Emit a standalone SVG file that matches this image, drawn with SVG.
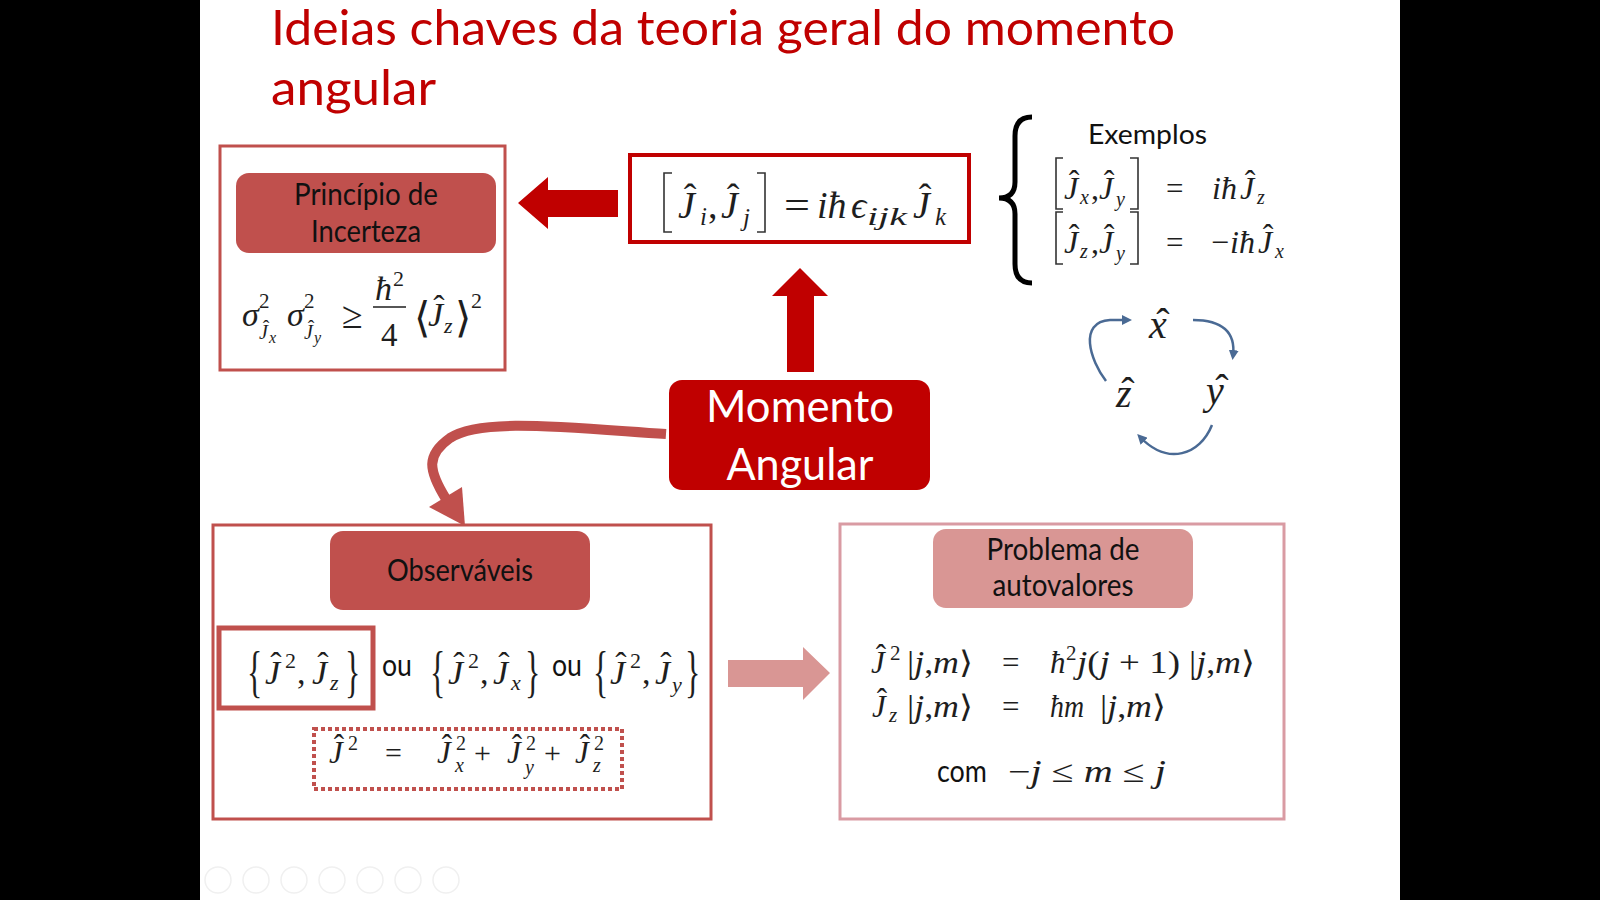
<svg xmlns="http://www.w3.org/2000/svg" width="1600" height="900" viewBox="0 0 1600 900">
<style>
.s{font-family:"Lato","Liberation Sans",sans-serif}
.m{font-family:"Liberation Serif","DejaVu Serif",serif;font-style:italic;fill:#1e1e1e}
.u{font-family:"Liberation Serif","DejaVu Serif",serif;font-style:normal;fill:#1e1e1e}
.h{font-style:normal;text-anchor:middle}
.n{font-style:normal}
.br{fill:none;stroke:#333;stroke-width:1.6}
.lbl{font-size:30px;fill:#111;text-anchor:middle}
</style>
<defs>
<marker id="ab" viewBox="0 0 10 10" refX="6" refY="5" markerWidth="4" markerHeight="4" orient="auto" markerUnits="strokeWidth">
<path d="M0 0 L10 5 L0 10 Z" fill="#4a6a94"/>
</marker>
</defs>
<rect x="0" y="0" width="1600" height="900" fill="#000"/>
<rect x="200" y="0" width="1200" height="900" fill="#fff"/>

<g id="title" class="s" fill="#c00000" font-size="49">
<text x="271" y="45" textLength="904" lengthAdjust="spacingAndGlyphs">Ideias chaves da teoria geral do momento</text>
<text x="271" y="105" textLength="165" lengthAdjust="spacingAndGlyphs">angular</text>
</g>

<g id="connectors">
<polygon points="518,203 548,177 548,190 618,190 618,217 548,217 548,229" fill="#c00000"/>
<polygon points="800,268 828,296 814,296 814,372 787,372 787,296 772,296" fill="#c00000"/>
<polygon points="728,660 803,660 803,647 830,673 803,700 803,687 728,687" fill="#d99694"/>
<path d="M666 434 C560 427,480 418,450 438 C426 455,428 470,446 499" fill="none" stroke="#c0504d" stroke-width="10"/>
<polygon points="429,507 462,487 465,526" fill="#c0504d"/>
<path d="M1106 381 C1090 360,1078 322,1110 320 L1128 320" fill="none" stroke="#4a6a94" stroke-width="2.5" marker-end="url(#ab)"/>
<path d="M1193 320 C1222 320,1236 332,1233 356" fill="none" stroke="#4a6a94" stroke-width="2.5" marker-end="url(#ab)"/>
<path d="M1212 425 C1200 455,1168 466,1140 437" fill="none" stroke="#4a6a94" stroke-width="2.5" marker-end="url(#ab)"/>
</g>

<g id="incerteza">
<rect x="220" y="146" width="285" height="224" fill="#fff" stroke="#c0504d" stroke-width="3"/>
<rect x="236" y="173" width="260" height="80" rx="13" fill="#c0504d"/>
<text class="s lbl" x="366" y="205" textLength="144" lengthAdjust="spacingAndGlyphs">Princípio de</text>
<text class="s lbl" x="366" y="242" textLength="110" lengthAdjust="spacingAndGlyphs">Incerteza</text>
<text class="m" x="242" y="326" font-size="34">σ<tspan class="n" x="259" y="308" font-size="21">2</tspan><tspan x="259" y="339" font-size="20">J</tspan><tspan class="h" x="266" y="335" font-size="20">ˆ</tspan><tspan x="269" y="343" font-size="16">x</tspan></text>
<text class="m" x="287" y="326" font-size="34">σ<tspan class="n" x="304" y="308" font-size="21">2</tspan><tspan x="304" y="339" font-size="20">J</tspan><tspan class="h" x="311" y="335" font-size="20">ˆ</tspan><tspan x="314" y="343" font-size="16">y</tspan></text>
<text class="u" x="342" y="328" font-size="38">≥</text>
<text class="m" x="375" y="300" font-size="34">ħ<tspan class="n" x="393" y="286" font-size="22">2</tspan></text>
<line x1="373" y1="307" x2="406" y2="307" stroke="#1e1e1e" stroke-width="1.5"/>
<text class="u" x="381" y="346" font-size="33">4</text>
<text class="m" x="414" y="332" font-size="42"><tspan class="n">⟨</tspan><tspan x="428" y="326" font-size="34">J</tspan><tspan class="h" x="439" y="319" font-size="34">ˆ</tspan><tspan x="444" y="333" font-size="22">z</tspan><tspan class="n" x="455" y="332">⟩</tspan><tspan class="n" x="471" y="308" font-size="22">2</tspan></text>
</g>

<g id="comutador">
<rect x="630" y="155" width="339" height="87" fill="#fff" stroke="#c00000" stroke-width="4"/>
<path class="br" d="M672 173 H664 V232 H672"/>
<text class="m" x="678" y="218" font-size="38">J<tspan class="h" x="690" y="210">ˆ</tspan><tspan x="700" y="225" font-size="25">i</tspan><tspan class="n" x="708" y="218">,</tspan></text>
<text class="m" x="721" y="218" font-size="38">J<tspan class="h" x="733" y="210">ˆ</tspan><tspan x="743" y="226" font-size="25">j</tspan></text>
<path class="br" d="M757 173 H765 V232 H757"/>
<text class="u" x="784" y="218" font-size="38" textLength="26" lengthAdjust="spacingAndGlyphs">=</text>
<text class="m" x="817" y="218" font-size="38">iħ<tspan x="851">ϵ</tspan></text>
<text class="m" x="867" y="225" font-size="25" textLength="40" lengthAdjust="spacingAndGlyphs">ijk</text>
<text class="m" x="913" y="218" font-size="38">J<tspan class="h" x="925" y="210">ˆ</tspan><tspan x="935" y="225" font-size="25">k</tspan></text>
</g>

<g id="exemplos">
<path d="M1032 117 Q1015 117 1015 136 V182 Q1015 198 999 198 Q1015 198 1015 214 V264 Q1015 283 1032 283" fill="none" stroke="#000" stroke-width="5"/>
<text class="s" x="1088" y="144" font-size="27" fill="#111" textLength="119" lengthAdjust="spacingAndGlyphs">Exemplos</text>
<path class="br" d="M1063 158 H1056 V209 H1063"/>
<text class="m" x="1064" y="199" font-size="32">J<tspan class="h" x="1074" y="192">ˆ</tspan><tspan x="1080" y="204" font-size="20">x</tspan><tspan class="n" x="1091" y="199">,</tspan></text>
<text class="m" x="1099" y="199" font-size="32">J<tspan class="h" x="1109" y="192">ˆ</tspan><tspan x="1116" y="206" font-size="20">y</tspan></text>
<path class="br" d="M1130 158 H1138 V209 H1130"/>
<text class="u" x="1166" y="199" font-size="31">=</text>
<text class="m" x="1212" y="199" font-size="32">iħ<tspan x="1240">J</tspan><tspan class="h" x="1250" y="192">ˆ</tspan><tspan x="1257" y="204" font-size="20">z</tspan></text>
<path class="br" d="M1063 212 H1056 V264 H1063"/>
<text class="m" x="1064" y="253" font-size="32">J<tspan class="h" x="1074" y="246">ˆ</tspan><tspan x="1080" y="258" font-size="20">z</tspan><tspan class="n" x="1091" y="253">,</tspan></text>
<text class="m" x="1099" y="253" font-size="32">J<tspan class="h" x="1109" y="246">ˆ</tspan><tspan x="1116" y="260" font-size="20">y</tspan></text>
<path class="br" d="M1130 212 H1138 V264 H1130"/>
<text class="u" x="1166" y="253" font-size="31">=</text>
<text class="m" x="1211" y="253" font-size="32"><tspan class="n">−</tspan><tspan x="1230">iħ</tspan><tspan x="1258">J</tspan><tspan class="h" x="1268" y="246">ˆ</tspan><tspan x="1275" y="258" font-size="20">x</tspan></text>
</g>

<g id="ciclo">
<text class="m" x="1149" y="338" font-size="40">x<tspan class="h" x="1163" y="336">ˆ</tspan></text>
<text class="m" x="1206" y="404" font-size="40">y<tspan class="h" x="1222" y="402">ˆ</tspan></text>
<text class="m" x="1116" y="407" font-size="40">z<tspan class="h" x="1128" y="405">ˆ</tspan></text>
</g>

<g id="momento">
<rect x="669" y="380" width="261" height="110" rx="13" fill="#c00000"/>
<text class="s" x="800" y="422" font-size="44" fill="#fff" text-anchor="middle" textLength="188" lengthAdjust="spacingAndGlyphs">Momento</text>
<text class="s" x="800" y="480" font-size="44" fill="#fff" text-anchor="middle" textLength="147" lengthAdjust="spacingAndGlyphs">Angular</text>
</g>

<g id="observaveis">
<rect x="213" y="525" width="498" height="294" fill="#fff" stroke="#c0504d" stroke-width="3"/>
<rect x="330" y="531" width="260" height="79" rx="13" fill="#c0504d"/>
<text class="s lbl" x="460" y="581" textLength="146" lengthAdjust="spacingAndGlyphs">Observáveis</text>
<rect x="219" y="628" width="154" height="80" fill="none" stroke="#c0504d" stroke-width="5"/>
<text class="u" transform="translate(247,691) scale(0.55,1)" font-size="58">{</text>
<text class="m" x="265" y="684" font-size="34">J<tspan class="h" x="276" y="676">ˆ</tspan><tspan class="n" x="285" y="668" font-size="22">2</tspan><tspan class="n" x="297" y="684">,</tspan><tspan x="312" y="684">J</tspan><tspan class="h" x="323" y="676">ˆ</tspan><tspan x="330" y="690" font-size="22">z</tspan></text>
<text class="u" transform="translate(345,691) scale(0.55,1)" font-size="58">}</text>
<text class="s" x="382" y="676" font-size="30" fill="#111" textLength="30" lengthAdjust="spacingAndGlyphs">ou</text>
<text class="u" transform="translate(430,691) scale(0.55,1)" font-size="58">{</text>
<text class="m" x="448" y="684" font-size="34">J<tspan class="h" x="459" y="676">ˆ</tspan><tspan class="n" x="468" y="668" font-size="22">2</tspan><tspan class="n" x="480" y="684">,</tspan><tspan x="493" y="684">J</tspan><tspan class="h" x="504" y="676">ˆ</tspan><tspan x="511" y="690" font-size="22">x</tspan></text>
<text class="u" transform="translate(525,691) scale(0.55,1)" font-size="58">}</text>
<text class="s" x="552" y="676" font-size="30" fill="#111" textLength="30" lengthAdjust="spacingAndGlyphs">ou</text>
<text class="u" transform="translate(593,691) scale(0.55,1)" font-size="58">{</text>
<text class="m" x="610" y="684" font-size="34">J<tspan class="h" x="621" y="676">ˆ</tspan><tspan class="n" x="630" y="668" font-size="22">2</tspan><tspan class="n" x="642" y="684">,</tspan><tspan x="655" y="684">J</tspan><tspan class="h" x="666" y="676">ˆ</tspan><tspan x="672" y="692" font-size="22">y</tspan></text>
<text class="u" transform="translate(685,691) scale(0.55,1)" font-size="58">}</text>
<rect x="314" y="729" width="308" height="60" fill="none" stroke="#c0504d" stroke-width="4" stroke-dasharray="4 3"/>
<text class="m" x="329" y="763" font-size="31">J<tspan class="h" x="339" y="756">ˆ</tspan><tspan class="n" x="348" y="750" font-size="20">2</tspan><tspan class="n" x="385" y="763" font-size="30">=</tspan></text>
<text class="m" x="437" y="763" font-size="31">J<tspan class="h" x="447" y="756">ˆ</tspan><tspan class="n" x="456" y="750" font-size="20">2</tspan><tspan x="455" y="772" font-size="20">x</tspan><tspan class="n" x="474" y="763" font-size="30">+</tspan></text>
<text class="m" x="507" y="763" font-size="31">J<tspan class="h" x="517" y="756">ˆ</tspan><tspan class="n" x="526" y="750" font-size="20">2</tspan><tspan x="525" y="774" font-size="20">y</tspan><tspan class="n" x="544" y="763" font-size="30">+</tspan></text>
<text class="m" x="575" y="763" font-size="31">J<tspan class="h" x="585" y="756">ˆ</tspan><tspan class="n" x="594" y="750" font-size="20">2</tspan><tspan x="593" y="772" font-size="20">z</tspan></text>
</g>

<g id="autovalores">
<rect x="840" y="524" width="444" height="295" fill="#fff" stroke="#d99ba3" stroke-width="3"/>
<rect x="933" y="529" width="260" height="79" rx="13" fill="#d99694"/>
<text class="s lbl" x="1063" y="560" textLength="153" lengthAdjust="spacingAndGlyphs">Problema de</text>
<text class="s lbl" x="1063" y="596" textLength="141" lengthAdjust="spacingAndGlyphs">autovalores</text>
<text class="m" x="871" y="673" font-size="31">J<tspan class="h" x="881" y="666">ˆ</tspan><tspan class="n" x="890" y="660" font-size="21">2</tspan></text>
<text class="m" x="907" y="673" font-size="31" textLength="66" lengthAdjust="spacingAndGlyphs"><tspan class="n">|</tspan>j<tspan class="n">,</tspan>m<tspan class="n">⟩</tspan></text>
<text class="u" x="1002" y="673" font-size="31">=</text>
<text class="m" x="1050" y="673" font-size="31">ħ<tspan class="n" x="1066" y="660" font-size="21">2</tspan></text>
<text class="m" x="1077" y="673" font-size="31" textLength="103" lengthAdjust="spacingAndGlyphs">j<tspan class="n">(</tspan>j<tspan class="n"> + 1)</tspan></text>
<text class="m" x="1189" y="673" font-size="31" textLength="66" lengthAdjust="spacingAndGlyphs"><tspan class="n">|</tspan>j<tspan class="n">,</tspan>m<tspan class="n">⟩</tspan></text>
<text class="m" x="872" y="717" font-size="31">J<tspan class="h" x="882" y="710">ˆ</tspan><tspan x="889" y="722" font-size="21">z</tspan></text>
<text class="m" x="907" y="717" font-size="31" textLength="66" lengthAdjust="spacingAndGlyphs"><tspan class="n">|</tspan>j<tspan class="n">,</tspan>m<tspan class="n">⟩</tspan></text>
<text class="u" x="1002" y="717" font-size="31">=</text>
<text class="m" x="1050" y="717" font-size="31" textLength="34" lengthAdjust="spacingAndGlyphs">ħm</text>
<text class="m" x="1100" y="717" font-size="31" textLength="66" lengthAdjust="spacingAndGlyphs"><tspan class="n">|</tspan>j<tspan class="n">,</tspan>m<tspan class="n">⟩</tspan></text>
<text class="s" x="937" y="782" font-size="30" fill="#111" textLength="50" lengthAdjust="spacingAndGlyphs">com</text>
<text class="m" x="1008" y="782" font-size="31" textLength="158" lengthAdjust="spacingAndGlyphs"><tspan class="n">−</tspan>j<tspan class="n"> ≤ </tspan>m<tspan class="n"> ≤ </tspan>j</text>
</g>

<g id="toolbar" fill="none" stroke="#f0f0f0" stroke-width="1.5">
<circle cx="218" cy="880" r="13"/>
<circle cx="256" cy="880" r="13"/>
<circle cx="294" cy="880" r="13"/>
<circle cx="332" cy="880" r="13"/>
<circle cx="370" cy="880" r="13"/>
<circle cx="408" cy="880" r="13"/>
<circle cx="446" cy="880" r="13"/>
</g>
</svg>
